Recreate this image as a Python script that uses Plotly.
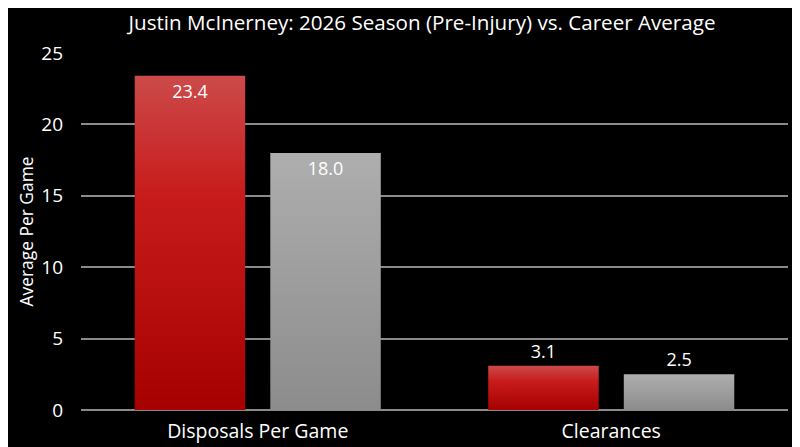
import plotly.graph_objects as go

categories = ["Disposals Per Game", "Clearances"]
season_2026 = [23.4, 3.1]
career_avg = [18.0, 2.5]
series_names = ["2026 Season (Pre-Injury)", "Career Average"]

# big bars get the label inside, small ones above
def label_pos(vals):
    return ["inside" if v > 5 else "outside" for v in vals]

fig = go.Figure()
fig.add_trace(go.Bar(x=categories, y=season_2026, name=series_names[0],
                     marker=dict(color="#c01818", line_width=0),
                     text=[f"{v:.1f}" for v in season_2026],
                     textposition=label_pos(season_2026),
                     insidetextanchor="end"))
fig.add_trace(go.Bar(x=categories, y=career_avg, name=series_names[1],
                     marker=dict(color="#a2a2a2", line_width=0),
                     text=[f"{v:.1f}" for v in career_avg],
                     textposition=label_pos(career_avg),
                     insidetextanchor="end"))

fig.update_traces(textfont=dict(color="white", size=18),
                  outsidetextfont=dict(color="white", size=18),
                  insidetextfont=dict(color="white", size=18),
                  cliponaxis=False)

fig.update_layout(
    width=800, height=447,
    paper_bgcolor="black", plot_bgcolor="black",
    font=dict(family="Open Sans", color="white", size=17),
    title=dict(text="Justin McInerney: 2026 Season (Pre-Injury) vs. Career Average",
               x=0.5175, xanchor="center", y=0.968, yanchor="middle",
               font=dict(size=20.6, color="white")),
    showlegend=False,
    barmode="group", bargap=0.233, bargroupgap=0.185,
    margin=dict(l=73, r=20, t=45, b=45),
    uniformtext=dict(minsize=18, mode="show"),
)
fig.update_yaxes(range=[0, 25], dtick=5, gridcolor="#8a8a8a", gridwidth=1.5,
                 zeroline=True, zerolinecolor="#8a8a8a", zerolinewidth=1.5,
                 title=dict(text="Average Per Game", font=dict(size=17.4), standoff=3),
                 tickfont=dict(size=19), ticks="", showline=False,
                 ticklabelstandoff=17)
fig.update_xaxes(tickfont=dict(size=19.5), showgrid=False, showline=False,
                 ticklabelstandoff=7)

# vertical gradient on the bars, like the original slide
post = """
var gd = document.querySelector('.plotly-graph-div');
function addGrads(){
  var svg = gd.querySelector('svg.main-svg');
  var defs = svg.querySelector('defs');
  var ns = 'http://www.w3.org/2000/svg';
  var specs = [['gRed',[['0%','#cc4a4a'],['35%','#c81c1c'],['100%','#a60000']]],
               ['gGray',[['0%','#aeaeae'],['100%','#8c8c8c']]]];
  specs.forEach(function(s){
    if (defs.querySelector('#'+s[0])) return;
    var lg = document.createElementNS(ns,'linearGradient');
    lg.setAttribute('id', s[0]); lg.setAttribute('x1','0'); lg.setAttribute('y1','0');
    lg.setAttribute('x2','0'); lg.setAttribute('y2','1');
    s[1].forEach(function(st){
      var e = document.createElementNS(ns,'stop');
      e.setAttribute('offset', st[0]); e.setAttribute('stop-color', st[1]);
      lg.appendChild(e);
    });
    defs.appendChild(lg);
  });
  var traces = gd.querySelectorAll('.barlayer .trace');
  traces.forEach(function(t, i){
    t.querySelectorAll('path').forEach(function(p){
      p.style.fill = 'url(#' + (i === 0 ? 'gRed' : 'gGray') + ')';
    });
  });
}
addGrads();
gd.on('plotly_afterplot', addGrads);
"""

fig.write_html("out.html", post_script=post)
